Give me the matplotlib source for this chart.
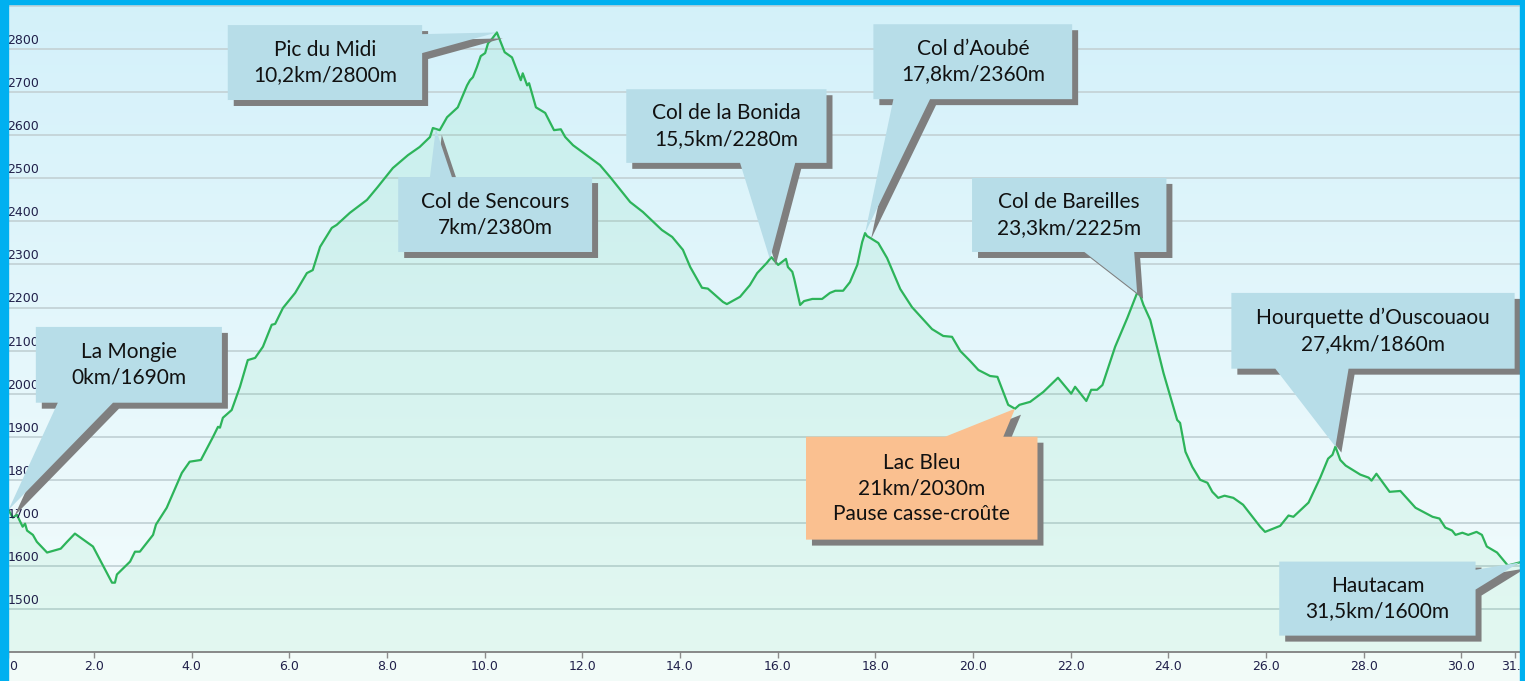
import numpy as np
import matplotlib
matplotlib.use("Agg")
import matplotlib.pyplot as plt
from matplotlib.patches import Polygon, Rectangle
from matplotlib import patheffects as pe

# profil altimétrique La Mongie -> Hautacam (km, m)
km = [0.25, 0.34, 0.42, 0.54, 0.59, 0.63, 0.75, 0.83, 1.04, 1.32,
      1.45, 1.61, 1.98, 2.37, 2.43, 2.47, 2.74, 2.84, 2.94, 3.21,
      3.27, 3.49, 3.80, 3.96, 4.19, 4.44, 4.54, 4.58, 4.64, 4.82,
      4.99, 5.15, 5.30, 5.46, 5.64, 5.71, 5.87, 6.12, 6.36, 6.48,
      6.63, 6.87, 6.97, 7.24, 7.59, 7.81, 8.12, 8.43, 8.67, 8.88,
      8.94, 9.08, 9.23, 9.45, 9.64, 9.70, 9.76, 9.84, 9.92, 10.01,
      10.07, 10.13, 10.25, 10.41, 10.56, 10.74, 10.78, 10.87, 10.91, 11.05,
      11.24, 11.42, 11.56, 11.65, 11.81, 12.36, 12.57, 12.98, 13.24, 13.63,
      13.84, 14.06, 14.21, 14.45, 14.57, 14.88, 14.96, 15.23, 15.43, 15.58,
      15.78, 15.87, 16.01, 16.17, 16.21, 16.30, 16.34, 16.40, 16.46, 16.54,
      16.71, 16.91, 17.07, 17.18, 17.34, 17.48, 17.63, 17.73, 17.79, 17.83,
      17.89, 18.06, 18.24, 18.51, 18.75, 19.16, 19.39, 19.57, 19.74, 19.94,
      20.11, 20.35, 20.50, 20.72, 20.86, 20.95, 21.17, 21.44, 21.74, 22.01,
      22.09, 22.32, 22.42, 22.54, 22.65, 22.91, 23.16, 23.36, 23.42, 23.49,
      23.63, 23.90, 24.18, 24.24, 24.35, 24.49, 24.65, 24.80, 24.90, 25.02,
      25.15, 25.33, 25.53, 25.88, 25.98, 26.29, 26.46, 26.56, 26.87, 27.11,
      27.27, 27.36, 27.42, 27.52, 27.63, 27.93, 28.10, 28.16, 28.26, 28.53,
      28.75, 29.06, 29.41, 29.55, 29.67, 29.81, 29.88, 30.02, 30.14, 30.31,
      30.42, 30.52, 30.73, 30.95, 31.19]
elev = [1730, 1712, 1719, 1691, 1698, 1682, 1672, 1656, 1631, 1640,
        1656, 1675, 1645, 1561, 1561, 1580, 1610, 1633, 1633, 1672,
        1696, 1735, 1816, 1842, 1846, 1900, 1923, 1921, 1944, 1962,
        2016, 2078, 2083, 2109, 2160, 2162, 2199, 2234, 2280, 2287,
        2341, 2385, 2392, 2420, 2450, 2480, 2524, 2554, 2573, 2596,
        2617, 2612, 2642, 2665, 2716, 2728, 2735, 2758, 2784, 2791,
        2814, 2821, 2839, 2793, 2781, 2728, 2744, 2716, 2721, 2665,
        2652, 2612, 2614, 2596, 2577, 2531, 2503, 2445, 2422, 2380,
        2364, 2334, 2294, 2246, 2244, 2213, 2208, 2225, 2252, 2280,
        2304, 2317, 2299, 2313, 2294, 2283, 2266, 2236, 2206, 2215,
        2220, 2220, 2234, 2239, 2239, 2259, 2299, 2352, 2373, 2366,
        2362, 2350, 2315, 2243, 2201, 2150, 2134, 2132, 2099, 2076,
        2055, 2041, 2039, 1974, 1965, 1974, 1981, 2004, 2037, 2000,
        2016, 1983, 2009, 2009, 2020, 2109, 2176, 2234, 2229, 2206,
        2171, 2048, 1939, 1932, 1865, 1830, 1800, 1793, 1772, 1758,
        1763, 1758, 1742, 1691, 1679, 1693, 1717, 1714, 1747, 1805,
        1849, 1858, 1877, 1846, 1833, 1812, 1805, 1798, 1814, 1772,
        1774, 1735, 1714, 1710, 1689, 1682, 1672, 1677, 1672, 1679,
        1672, 1645, 1631, 1601, 1608]

x_ticks = [2, 4, 6, 8, 10, 12, 14, 16, 18, 20, 22, 24, 26, 28, 30]
y_ticks = [1500, 1600, 1700, 1800, 1900, 2000, 2100, 2200, 2300, 2400,
           2500, 2600, 2700, 2800, 2900]
y_labels = [1500, 1600, 1700, 1800, 1900, 2000, 2100, 2200, 2300, 2400,
            2500, 2600, 2700, 2800]

# bulles : texte, boîte (x0, x1, y0, y1), côté de la pointe, base de la pointe, km visé, couleur
callouts = [
    ("La Mongie\n0km/1690m", (0.81, 4.62, 1979, 2155), "bottom", (1.26, 2.39), 0.25, "#B7DDE8"),
    ("Pic du Midi\n10,2km/2800m", (4.74, 8.72, 2682, 2856), "right", (2791, 2835), 10.25, "#B7DDE8"),
    ("Col de Sencours\n7km/2380m", (8.23, 12.2, 2329, 2503), "top", (8.88, 9.33), 9.0, "#B7DDE8"),
    ("Col de la Bonida\n15,5km/2280m", (12.9, 17.0, 2536, 2707), "bottom", (15.23, 16.36), 15.84, "#B7DDE8"),
    ("Col d\u2019Aoub\u00e9\n17,8km/2360m", (17.96, 22.03, 2684, 2858), "bottom", (18.37, 19.12), 17.79, "#B7DDE8"),
    ("Col de Bareilles\n23,3km/2225m", (19.98, 23.96, 2329, 2501), "bottom", (22.28, 23.30), 23.36, "#B7DDE8"),
    ("Lac Bleu\n21km/2030m\nPause casse-cro\u00fbte", (16.58, 21.32, 1661, 1900), "top", (19.43, 20.62), 20.86, "#FAC090"),
    ("Hourquette d\u2019Ouscouaou\n27,4km/1860m", (25.29, 31.09, 2058, 2234), "bottom", (26.19, 27.69), 27.42, "#B7DDE8"),
    ("Hautacam\n31,5km/1600m", (26.27, 30.29, 1438, 1610), "right", (1545, 1591), 31.19, "#B7DDE8"),
]

xmin, xmax = 0.24, 31.2
ymin, ymax = 1400, 2905

fig = plt.figure(figsize=(15.25, 6.81), dpi=100, facecolor="#F2FBF8")
ax = fig.add_axes([8 / 1525, 29 / 681, 1512 / 1525, 648 / 681])

# fond en dégradé bleu -> blanc
top = np.array([0.83, 0.945, 0.98])
bot = np.array([0.955, 0.988, 0.99])
t = np.linspace(0, 1, 256)[:, None, None]
grad = top * (1 - t) + bot * t
ax.imshow(grad, extent=[xmin, xmax, ymin, ymax], aspect="auto", origin="upper", zorder=0)

for y in y_ticks:
    ax.axhline(y, color="#C6D6DA", lw=1.4, zorder=0.5)

ax.fill_between(km, elev, ymin, color="#3FD27A", alpha=0.09, lw=0, zorder=1)
ax.plot(km, elev, color="#2DB45A", lw=1.6, zorder=2)

ax.set_xlim(xmin, xmax)
ax.set_ylim(ymin, ymax)

for s in ["top", "left", "right"]:
    ax.spines[s].set_visible(False)
ax.spines["bottom"].set_color("#808080")
ax.spines["bottom"].set_linewidth(1.3)
ax.set_yticks([])
ax.set_xticks([xmin] + x_ticks + [31.1])
ax.set_xticklabels(["0.0"] + ["%.1f" % v for v in x_ticks] + ["31.5"])
ax.tick_params(axis="x", length=4, width=1, color="#8C8C8C", pad=2,
               labelsize=9, labelcolor="#20204A")

for v in y_labels:
    ax.annotate(str(v), xy=(0, v), xycoords=("axes fraction", "data"),
                xytext=(-0.5, 1.5), textcoords="offset points",
                ha="left", va="bottom", fontsize=9, color="#20204A", zorder=3)


def callout_shape(box, side, base, tip):
    x0, x1, y0, y1 = box
    if side == "bottom":
        return [(x0, y1), (x1, y1), (x1, y0), (base[1], y0), tip, (base[0], y0), (x0, y0)]
    if side == "top":
        return [(x0, y0), (x0, y1), (base[0], y1), tip, (base[1], y1), (x1, y1), (x1, y0)]
    return [(x0, y0), (x0, y1), (x1, y1), (x1, base[1]), tip, (x1, base[0]), (x1, y0)]


for text, box, side, base, tip_km, fc in callouts:
    tip = (tip_km, np.interp(tip_km, km, elev))
    poly = Polygon(callout_shape(box, side, base, tip), closed=True, fc=fc, ec="none", zorder=5,
                   path_effects=[pe.SimplePatchShadow(offset=(4.3, -4.3), shadow_rgbFace="#7F7F7F", alpha=1.0),
                                 pe.Normal()])
    ax.add_patch(poly)
    ax.text((box[0] + box[1]) / 2, (box[2] + box[3]) / 2, text, ha="center", va="center",
            fontsize=15, family="Lato", color="#111111", linespacing=1.35, zorder=6)

# cadre bleu de la capture
border = "#00B0F0"
fig.patches.append(Rectangle((0, 0), 8 / 1525, 1, transform=fig.transFigure, color=border, zorder=100))
fig.patches.append(Rectangle((0, 677 / 681), 1, 4 / 681, transform=fig.transFigure, color=border, zorder=100))
fig.patches.append(Rectangle((1520 / 1525, 0), 5 / 1525, 1, transform=fig.transFigure, color=border, zorder=100))

fig.savefig("out.png", dpi=100, facecolor=fig.get_facecolor())
